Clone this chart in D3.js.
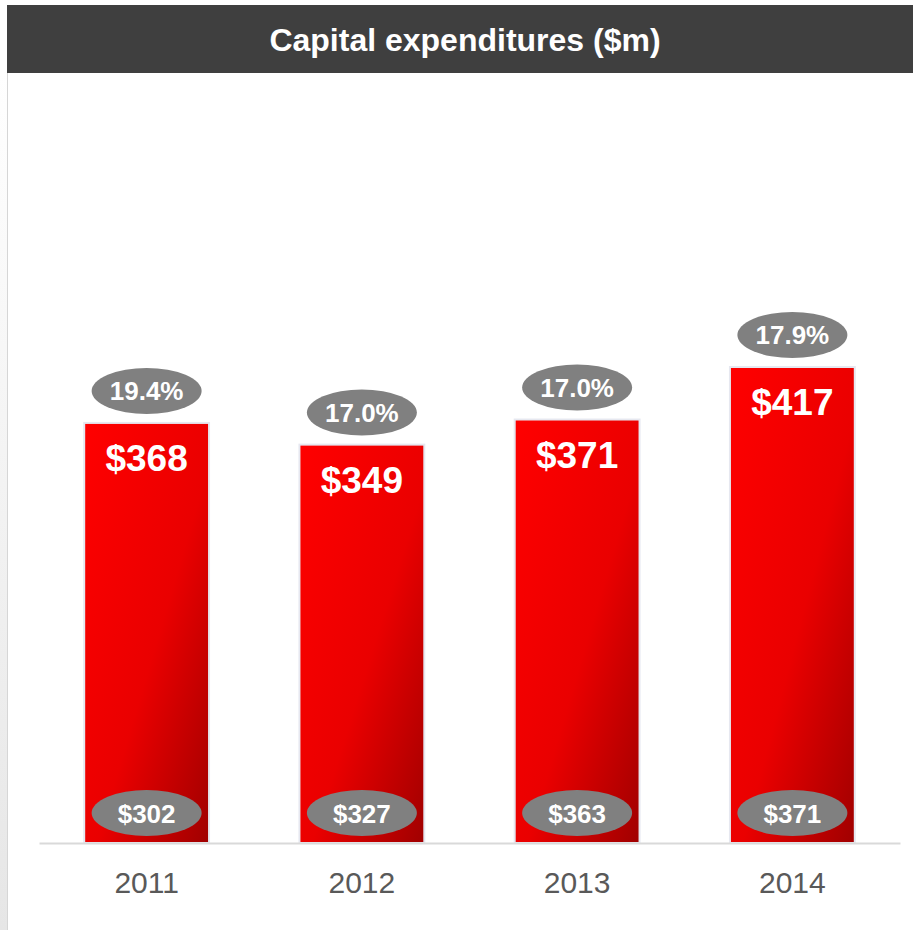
<!DOCTYPE html>
<html>
<head>
<meta charset="utf-8">
<script src="https://cdn.jsdelivr.net/npm/d3@7"></script>
<style>
  html, body { margin: 0; padding: 0; background: #ffffff; }
  svg { display: block; font-family: "Liberation Sans", Arial, sans-serif; }
</style>
</head>
<body>
<svg id="chart" width="913" height="930"></svg>
<script>
// Capital expenditures by year ($m)
const years = ["2011", "2012", "2013", "2014"];
const capex = [368, 349, 371, 417];
const capexPct = ["19.4%", "17.0%", "17.0%", "17.9%"];
const baseValues = ["$302", "$327", "$363", "$371"];

const W = 913, H = 930;
const svg = d3.select("#chart");

const defs = svg.append("defs");
const barGrad = defs.append("linearGradient")
  .attr("id", "barGrad").attr("x1", "0").attr("y1", "0").attr("x2", "1").attr("y2", "1");
barGrad.append("stop").attr("offset", "0%").attr("stop-color", "#ff0000");
barGrad.append("stop").attr("offset", "55%").attr("stop-color", "#ea0000");
barGrad.append("stop").attr("offset", "100%").attr("stop-color", "#a00000");

const sideGrad = defs.append("linearGradient")
  .attr("id", "sideGrad").attr("x1", "0").attr("y1", "0").attr("x2", "0").attr("y2", "1");
sideGrad.append("stop").attr("offset", "0%").attr("stop-color", "#ffffff");
sideGrad.append("stop").attr("offset", "100%").attr("stop-color", "#e6e6e6");

// left panel edge
svg.append("rect").attr("x", 0).attr("y", 73).attr("width", 7).attr("height", H - 73)
  .attr("fill", "url(#sideGrad)");
svg.append("line").attr("x1", 7.5).attr("x2", 7.5).attr("y1", 73).attr("y2", H)
  .attr("stroke", "#d6d6d6").attr("stroke-width", 1);

// title bar
svg.append("rect").attr("x", 7).attr("y", 5).attr("width", W - 7).attr("height", 68)
  .attr("fill", "#3f3f3f");
svg.append("text").attr("x", 465).attr("y", 51).attr("text-anchor", "middle")
  .attr("fill", "#ffffff").attr("font-weight", "bold").attr("font-size", 32)
  .text("Capital expenditures ($m)");

// scales
const x = d3.scaleBand().domain(years).range([39, 900]).paddingInner(0.42).paddingOuter(0.21);
const baseY = 843;
const y = d3.scaleLinear().domain([0, 417]).range([baseY, baseY - 476]);

const data = years.map((yr, i) => ({ yr, v: capex[i], pct: capexPct[i], base: baseValues[i] }));

const g = svg.append("g");

// bars
g.selectAll("rect.bar").data(data).join("rect")
  .attr("class", "bar")
  .attr("x", d => x(d.yr))
  .attr("y", d => y(d.v))
  .attr("width", x.bandwidth())
  .attr("height", d => baseY - y(d.v))
  .attr("fill", "url(#barGrad)")
  .attr("stroke", "#e6e8f0").attr("stroke-width", 2);

// axis baseline
const axis = d3.axisBottom(x).tickSize(0).tickPadding(0);
const ax = svg.append("g").attr("transform", `translate(0,${baseY})`).call(axis);
ax.select(".domain").attr("stroke", "#d9d9d9").attr("stroke-width", 2);
ax.selectAll(".tick text")
  .attr("dy", null).attr("y", 50)
  .attr("font-family", "Liberation Sans, Arial, sans-serif")
  .attr("font-size", 30).attr("fill", "#595959");

const cx = d => x(d.yr) + x.bandwidth() / 2;

// value labels inside bars
g.selectAll("text.val").data(data).join("text")
  .attr("class", "val")
  .attr("x", cx).attr("y", d => y(d.v) + 48)
  .attr("text-anchor", "middle").attr("fill", "#ffffff")
  .attr("font-weight", "bold").attr("font-size", 37)
  .text(d => "$" + d.v);

// percentage bubbles above bars
g.selectAll("ellipse.pct").data(data).join("ellipse")
  .attr("class", "pct")
  .attr("cx", cx).attr("cy", d => y(d.v) - 32)
  .attr("rx", 55).attr("ry", 23).attr("fill", "#808080");
g.selectAll("text.pct").data(data).join("text")
  .attr("class", "pct")
  .attr("x", cx).attr("y", d => y(d.v) - 32 + 9)
  .attr("text-anchor", "middle").attr("fill", "#ffffff")
  .attr("font-weight", "bold").attr("font-size", 26)
  .text(d => d.pct);

// base value bubbles at bottom of bars
g.selectAll("ellipse.base").data(data).join("ellipse")
  .attr("class", "base")
  .attr("cx", cx).attr("cy", baseY - 30)
  .attr("rx", 55).attr("ry", 23).attr("fill", "#808080");
g.selectAll("text.base").data(data).join("text")
  .attr("class", "base")
  .attr("x", cx).attr("y", baseY - 30 + 10)
  .attr("text-anchor", "middle").attr("fill", "#ffffff")
  .attr("font-weight", "bold").attr("font-size", 26)
  .text(d => d.base);
</script>
</body>
</html>
